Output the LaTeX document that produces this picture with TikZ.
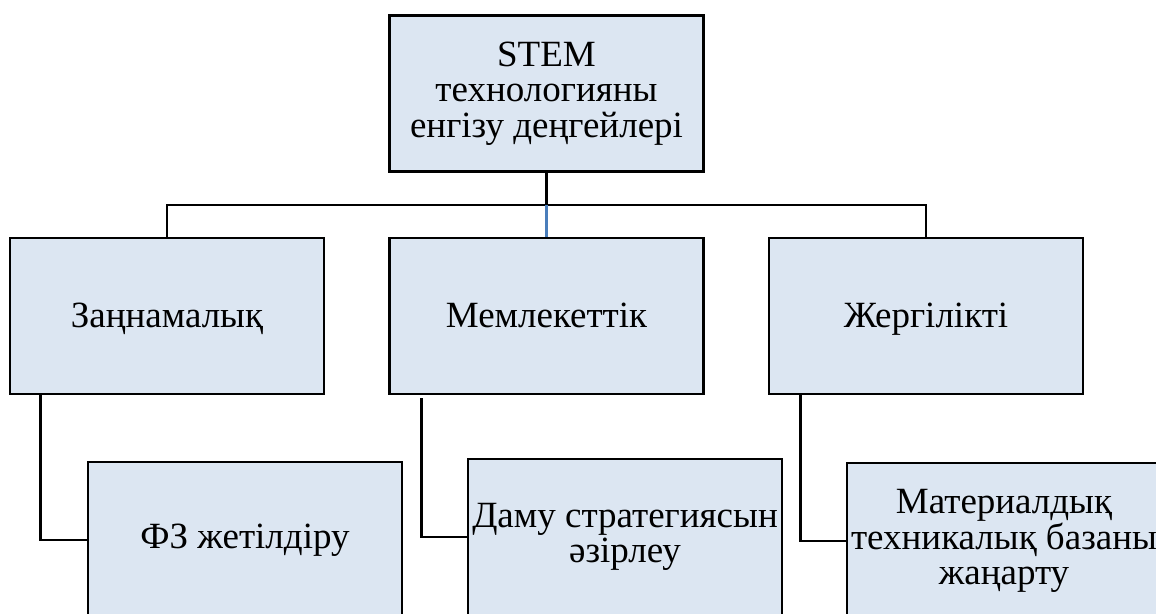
\documentclass[tikz,border=0pt]{standalone}
\usepackage{fontspec}
\setmainfont{Liberation Serif}
\definecolor{boxfill}{HTML}{DCE6F2}
\definecolor{linkblue}{HTML}{4A7EBB}
\begin{document}
\begin{tikzpicture}[x=1pt,y=-1pt,
  box/.style={draw=black, line width=2.7pt, fill=boxfill, minimum width=314pt, minimum height=156pt,
    inner sep=0pt, align=center, font=\fontsize{37}{35.5}\selectfont},
  single/.style={text height=28pt, text depth=6pt},
  link/.style={draw=black, line width=2.7pt}]
\useasboundingbox (0,0) rectangle (1156,613);
\node[box] (top) at (546.5,93.5) {STEM\\технологияны\\енгізу деңгейлері};
\node[box, single] (l1) at (167,316) {Заңнамалық};
\node[box, single] (m1) at (546.5,316) {Мемлекеттік};
\node[box, single] (r1) at (926,316) {Жергілікті};
\node[box, text height=26pt, text depth=10pt] (l2) at (245,540) {ФЗ жетілдіру};
\node[box] (m2) at (625,537) {Даму стратегиясын\\әзірлеу};
\node[box] (r2) at (1004,541) {Материалдық\\техникалық базаны\\жаңарту};
\coordinate (hub) at (546.5,205);
\draw[link] (top.south) -- (hub);
\draw[link] (l1.north) |- (hub) -| (r1.north);
\draw[draw=linkblue, line width=2.2pt] (hub) -- (m1.north);
\draw[link] ([xshift=32pt]l1.south west) |- (l2.west);
\draw[link] ([xshift=33pt,yshift=-3pt]m1.south west) |- (m2.west);
\draw[link] ([xshift=33pt]r1.south west) |- (r2.west);
\end{tikzpicture}
\end{document}
